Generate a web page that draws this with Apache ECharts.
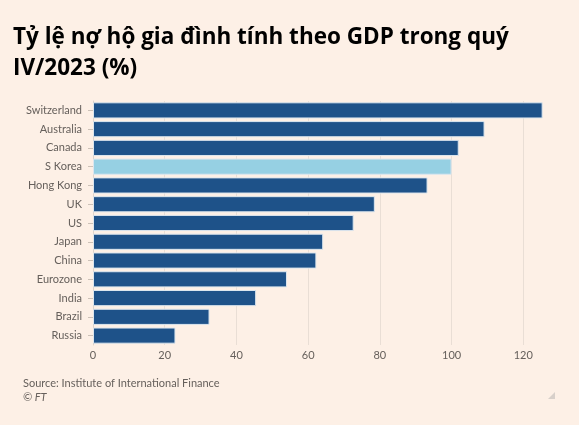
<!DOCTYPE html>
<html>
<head>
<meta charset="utf-8">
<script src="https://cdn.jsdelivr.net/npm/echarts@6/dist/echarts.min.js"></script>
<style>
html,body{margin:0;padding:0;background:#fdf0e6;}
#c{width:579px;height:425px;}
</style>
</head>
<body>
<div id="c"></div>
<script>
const categories = ["Switzerland","Australia","Canada","S Korea","Hong Kong","UK","US","Japan","China","Eurozone","India","Brazil","Russia"];
const values = [125.4,109.2,102.0,100.0,93.3,78.6,72.7,64.2,62.3,54.1,45.5,32.5,23.0];
const highlight = "S Korea";
const xTicks = [0,20,40,60,80,100,120];

const chart = echarts.init(document.getElementById('c'));
chart.setOption({
  backgroundColor: '#fdf0e6',
  animation: false,
  title: {
    text: 'Tỷ lệ nợ hộ gia đình tính theo GDP trong quý\nIV/2023 (%)',
    left: 8, top: 17,
    textStyle: {fontFamily: 'Open Sans', fontWeight: 'bold', fontSize: 22.5, color: '#000', lineHeight: 31}
  },
  graphic: [
    {type:'text', left: 23, top: 378, style:{text:'Source: Institute of International Finance', font:'11px Lato', fill:'#66605c'}},
    {type:'text', left: 23, top: 392, style:{text:'© FT', font:'italic 11px Lato', fill:'#66605c'}},
    {type:'polygon', shape:{points:[[555,392],[555,399],[548,399]]}, style:{fill:'#d8d0ca'}}
  ],
  grid: {left: 93, right: -16, top: 101, bottom: 80, outerBoundsMode: 'none', containLabel: false},
  xAxis: {
    type: 'value', min: 0, max: 140, interval: 20,
    axisLine: {show: false},
    axisTick: {show: false},
    axisLabel: {color: '#66605c', fontFamily: 'Lato', fontSize: 11, margin: 5,
      formatter: v => xTicks.includes(v) ? String(v) : ''},
    splitLine: {lineStyle: {color: '#e9ded5', width: 1}}
  },
  yAxis: {
    type: 'category', data: categories, inverse: true,
    axisLine: {show: true, lineStyle: {color: '#ddd3cb'}},
    axisTick: {show: true, length: 5, alignWithLabel: true, lineStyle: {color: '#ccc1b7'}},
    axisLabel: {color: '#66605c', fontFamily: 'Lato', fontSize: 11, margin: 11}
  },
  series: [{
    type: 'bar',
    data: values.map((v, i) => ({value: v, itemStyle: {color: categories[i] === highlight ? '#96d0e3' : '#1e5289'}})),
    barCategoryGap: '14%',
    itemStyle: {borderColor: '#dce6ee', borderWidth: 1},
    emphasis: {disabled: true}
  }]
});
</script>
</body>
</html>
